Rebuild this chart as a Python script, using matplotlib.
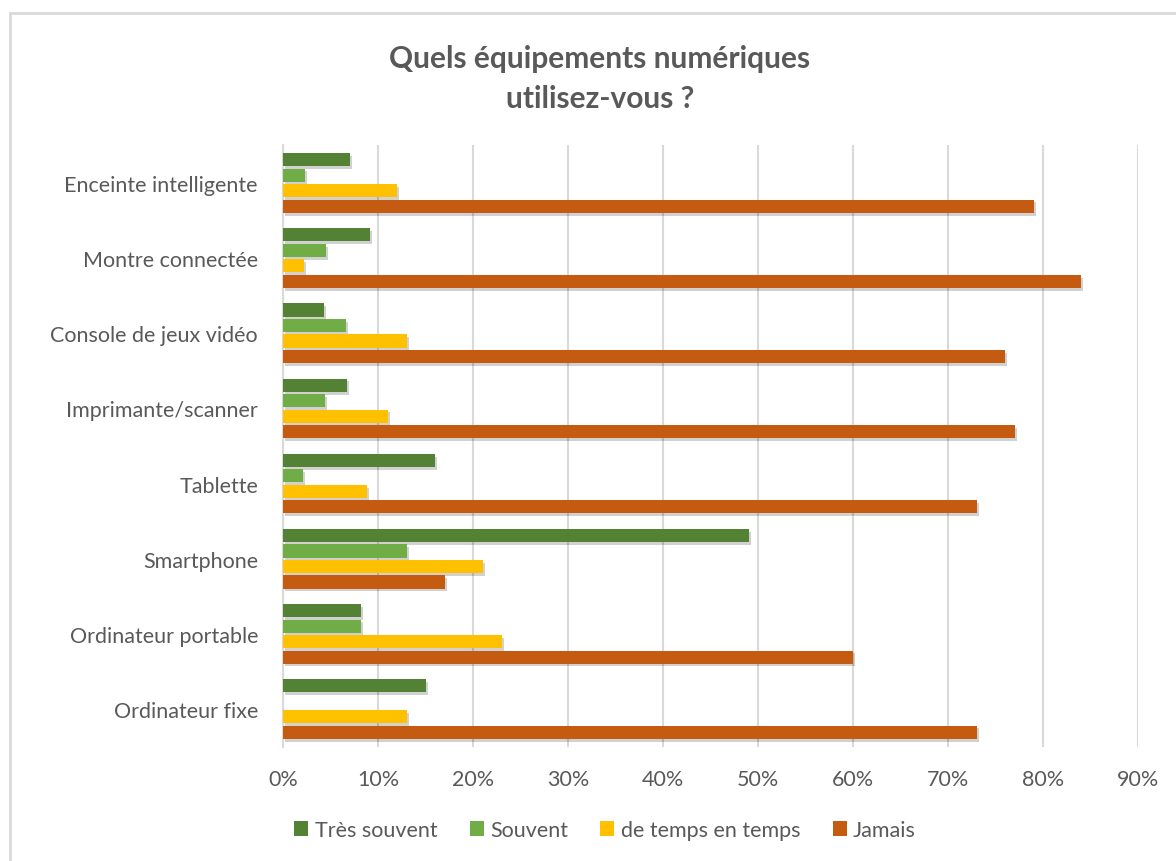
import matplotlib
matplotlib.use("Agg")
import matplotlib.pyplot as plt
import matplotlib.patheffects as pe
from matplotlib.patches import Rectangle, Patch
import numpy as np

categories = ["Ordinateur fixe", "Ordinateur portable", "Smartphone", "Tablette",
              "Imprimante/scanner", "Console de jeux vidéo", "Montre connectée",
              "Enceinte intelligente"]
series_names = ["Très souvent", "Souvent", "de temps en temps", "Jamais"]
tres_souvent = [15, 8.2, 49, 16, 6.7, 4.3, 9.2, 7]
souvent = [0, 8.2, 13, 2.1, 4.4, 6.6, 4.5, 2.3]
de_temps = [13, 23, 21, 8.8, 11, 13, 2.2, 12]
jamais = [73, 60, 17, 73, 77, 76, 84, 79]
colors = ["#548235", "#70AD47", "#FFC000", "#C55A11"]
xticks = [0, 10, 20, 30, 40, 50, 60, 70, 80, 90]
xticklabels = [f"{t}%" for t in xticks]

plt.rcParams['font.family'] = ['Lato', 'DejaVu Sans']
text_color = "#595959"

fig = plt.figure(figsize=(11.76, 8.62), dpi=100)
W, H = 1176, 862
# outer chart frame
fig.patches.append(Rectangle((10 / W, -0.01), 1.1, (862 - 14) / H + 0.01,
                             transform=fig.transFigure, fill=False,
                             edgecolor="#D9D9D9", linewidth=2))

ax = fig.add_axes([283 / W, 1 - 747.6 / H, (1138 - 283) / W, (747.6 - 146.4) / H])

y = np.arange(len(categories))
step = 0.206
height = 0.175
all_series = [tres_souvent, souvent, de_temps, jamais]
shadow = [pe.SimplePatchShadow(offset=(1.5, -2), shadow_rgbFace="black", alpha=0.18), pe.Normal()]
for i, (vals, c, name) in enumerate(zip(all_series, colors, series_names)):
    offs = (1.5 - i) * step
    bars = ax.barh(y + offs, vals, height=height, color=c, label=name, zorder=3)
    for b in bars:
        b.set_path_effects(shadow)

ax.set_xlim(0, 90)
ax.set_ylim(-0.5, len(categories) - 0.5)
ax.set_xticks(xticks)
ax.set_xticklabels(xticklabels)
ax.set_yticks(y)
ax.set_yticklabels(categories)
ax.tick_params(axis="both", length=0, labelsize=15.5, labelcolor=text_color)
ax.tick_params(axis="y", pad=18)
ax.tick_params(axis="x", pad=16)
ax.grid(axis="x", color="#D9D9D9", linewidth=1.5, zorder=0)
ax.set_axisbelow(True)
for s in ["top", "right", "bottom"]:
    ax.spines[s].set_visible(False)
ax.spines["left"].set_color("#D9D9D9")
ax.spines["left"].set_linewidth(1.5)

fig.text(600 / W, 1 - 79 / H, "Quels équipements numériques\nutilisez-vous ?",
         ha="center", va="center", fontsize=21.5, fontweight="bold",
         color=text_color, linespacing=1.5)

handles = [Patch(facecolor=c, label=n) for c, n in zip(colors, series_names)]
leg = fig.legend(handles=handles, loc="center", bbox_to_anchor=(605 / W, 1 - 831 / H),
                 ncol=4, frameon=False, fontsize=15.5, handlelength=0.65, handleheight=0.65,
                 handletextpad=0.3, columnspacing=1.5)
for t in leg.get_texts():
    t.set_color(text_color)

fig.savefig("out.png", dpi=100)
